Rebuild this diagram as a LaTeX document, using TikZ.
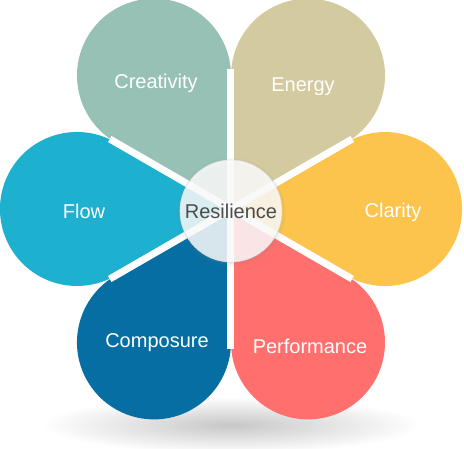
\documentclass[tikz,border=0pt]{standalone}
\usepackage{fontspec}
\setmainfont{Liberation Sans}
\usetikzlibrary{shadows}

\definecolor{creativity}{RGB}{151,193,180}
\definecolor{energy}{RGB}{211,202,159}
\definecolor{clarity}{RGB}{253,196,77}
\definecolor{performance}{RGB}{255,111,110}
\definecolor{composure}{RGB}{6,110,162}
\definecolor{flow}{RGB}{30,176,207}

\tikzset{
  petal label/.style={text=white, font=\fontsize{20}{24}\selectfont},
  gap/.style={white, line width=7pt},
  hub/.style={circle, minimum size=102pt, inner sep=0pt, fill=white,
    fill opacity=0.82, text opacity=1, draw=black!12, line width=0.6pt,
    text=black!70, font=\fontsize{20}{24}\selectfont,
    circular drop shadow={shadow xshift=0pt, shadow yshift=-1pt,
      shadow scale=1.08, opacity=0.25}}
}

\begin{document}
\begin{tikzpicture}[x=1pt, y=1pt]
  \useasboundingbox (-231,-239) rectangle (233,209);

  % soft shadow under the flower
  \shade[inner color=black!22, outer color=white] (0,-216) ellipse (190 and 28);

  % the six petals
  \fill[creativity] (0,0) -- (90:133.4) arc[start angle=0, end angle=240, radius=77] -- cycle;
  \fill[energy] (0,0) -- (30:133.4) arc[start angle=-60, end angle=180, radius=77] -- cycle;
  \fill[clarity] (0,0) -- (-30:133.4) arc[start angle=-120, end angle=120, radius=77] -- cycle;
  \fill[performance] (0,0) -- (-90:133.4) arc[start angle=-180, end angle=60, radius=77] -- cycle;
  \fill[composure] (0,0) -- (-150:133.4) arc[start angle=-240, end angle=0, radius=77] -- cycle;
  \fill[flow] (0,0) -- (150:133.4) arc[start angle=60, end angle=300, radius=77] -- cycle;

  % white gaps between petals
  \draw[gap] (0,0) -- (90:140);
  \draw[gap] (0,0) -- (30:140);
  \draw[gap] (0,0) -- (-30:140);
  \draw[gap] (0,0) -- (-90:140);
  \draw[gap] (0,0) -- (-150:140);
  \draw[gap] (0,0) -- (150:140);

  \node[petal label] (creativity) at (-75,126) {Creativity};
  \node[petal label] (energy) at (72,122) {Energy};
  \node[petal label] (clarity) at (162,-3) {Clarity};
  \node[petal label] (performance) at (79,-137) {Performance};
  \node[petal label] (composure) at (-74,-134) {Composure};
  \node[petal label] (flow) at (-147,-2) {Flow};

  \node[hub] (resilience) at (0,-2) {Resilience};
\end{tikzpicture}
\end{document}
